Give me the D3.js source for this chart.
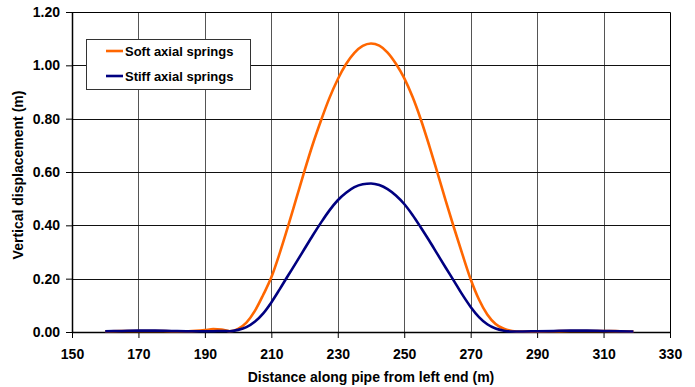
<!DOCTYPE html>
<html>
<head>
<meta charset="utf-8">
<script src="https://cdn.jsdelivr.net/npm/d3@7"></script>
<style>
  html, body { margin: 0; padding: 0; background: #fff; }
  svg { display: block; }
  text { font-family: Arial, "Liberation Sans", sans-serif; font-weight: bold; fill: #000; }
</style>
</head>
<body>
<svg id="chart" width="695" height="387"></svg>
<script>
// Distance along the pipe (m)
const distance = [160, 165, 170, 175, 180, 185, 190, 192.5, 195, 197.5,
  200, 202.5, 205, 207.5, 210, 212.5, 215, 217.5, 220, 222.5, 225, 227.5,
  230, 232.5, 235, 237.5, 240, 242.5, 245, 247.5, 250, 252.5, 255, 257.5,
  260, 262.5, 265, 267.5, 270, 272.5, 275, 277.5, 280, 282.5,
  285, 290, 295, 300, 305, 310, 315, 319];

// Vertical displacement (m), soft axial springs
const softSprings = [0.003, 0.004, 0.004, 0.004, 0.003, 0.003, 0.007, 0.011, 0.009, 0.003,
  0.012, 0.035, 0.078, 0.138, 0.205, 0.295, 0.395, 0.500, 0.605, 0.705, 0.795, 0.878,
  0.948, 1.005, 1.047, 1.073, 1.082, 1.074, 1.048, 1.006, 0.952, 0.882, 0.797, 0.700,
  0.597, 0.492, 0.390, 0.292, 0.198, 0.122, 0.066, 0.030, 0.012, 0.004,
  0.002, 0.002, 0.003, 0.004, 0.004, 0.004, 0.003, 0.002];

// Vertical displacement (m), stiff axial springs
const stiffSprings = [0.003, 0.004, 0.005, 0.005, 0.004, 0.003, 0.003, 0.003, 0.004, 0.003,
  0.008, 0.018, 0.038, 0.069, 0.111, 0.160, 0.211, 0.261, 0.312, 0.363, 0.411, 0.456,
  0.494, 0.522, 0.543, 0.554, 0.557, 0.551, 0.536, 0.512, 0.480, 0.439, 0.392, 0.343,
  0.292, 0.241, 0.191, 0.140, 0.094, 0.056, 0.029, 0.013, 0.005, 0.002,
  0.002, 0.003, 0.004, 0.005, 0.005, 0.004, 0.003, 0.002];

const xTicks = [150, 170, 190, 210, 230, 250, 270, 290, 310, 330];
const yTicks = [0, 0.2, 0.4, 0.6, 0.8, 1.0, 1.2];

const seriesNames = ["Soft axial springs", "Stiff axial springs"];
const seriesColors = ["#FF6600", "#000080"];

const svg = d3.select("#chart");
const plotLeft = 72, plotRight = 670, plotTop = 12, plotBottom = 332;

const x = d3.scaleLinear().domain([150, 330]).range([plotLeft, plotRight]);
const y = d3.scaleLinear().domain([0, 1.2]).range([plotBottom, plotTop]);

// Gridlines
svg.append("g").selectAll("line")
  .data(xTicks.slice(1, -1)).join("line")
  .attr("x1", d => Math.round(x(d)) + 0.5).attr("x2", d => Math.round(x(d)) + 0.5)
  .attr("y1", plotTop).attr("y2", plotBottom)
  .attr("stroke", "#555").attr("stroke-width", 1);

svg.append("g").selectAll("line")
  .data(yTicks.slice(1, -1)).join("line")
  .attr("x1", plotLeft).attr("x2", plotRight)
  .attr("y1", d => Math.round(y(d)) + 0.5).attr("y2", d => Math.round(y(d)) + 0.5)
  .attr("stroke", "#111").attr("stroke-width", 1);

// Plot frame (top and right)
svg.append("path")
  .attr("d", `M${plotLeft},${plotTop + 0.5}H${plotRight + 0.5}V${plotBottom}`)
  .attr("fill", "none").attr("stroke", "#000").attr("stroke-width", 1);

// Axes
const xAxis = svg.append("g")
  .attr("transform", `translate(0,${plotBottom})`)
  .call(d3.axisBottom(x).tickValues(xTicks).tickFormat(d3.format("d")).tickSize(6).tickSizeOuter(0));
const yAxis = svg.append("g")
  .attr("transform", `translate(${plotLeft},0)`)
  .call(d3.axisLeft(y).tickValues(yTicks).tickFormat(d3.format(".2f")).tickSize(6).tickSizeOuter(0));

[xAxis, yAxis].forEach(g => {
  g.select(".domain").attr("stroke", "#000").attr("stroke-width", 1.5);
  g.selectAll(".tick line").attr("stroke", "#000");
  g.selectAll(".tick text")
    .attr("font-family", "Arial, 'Liberation Sans', sans-serif")
    .attr("font-weight", "bold").attr("font-size", 14).attr("fill", "#000");
});
xAxis.selectAll(".tick text").attr("dy", "1.3em");
yAxis.selectAll(".tick text").attr("x", -12);

// Axis titles
svg.append("text")
  .attr("x", (plotLeft + plotRight) / 2).attr("y", 382)
  .attr("text-anchor", "middle").attr("font-size", 14)
  .text("Distance along pipe from left end (m)");

svg.append("text")
  .attr("transform", `translate(23,${(plotTop + plotBottom) / 2 + 3}) rotate(-90)`)
  .attr("text-anchor", "middle").attr("font-size", 14)
  .text("Vertical displacement (m)");

// Series lines
const line = (vals) => d3.line()
  .x((d, i) => x(distance[i]))
  .y(d => y(d))
  .curve(d3.curveMonotoneX)(vals);

[softSprings, stiffSprings].forEach((vals, i) => {
  svg.append("path")
    .attr("d", line(vals))
    .attr("fill", "none")
    .attr("stroke", seriesColors[i])
    .attr("stroke-width", 2.6)
    .attr("stroke-linejoin", "round");
});

// Legend
const legend = svg.append("g");
legend.append("rect")
  .attr("x", 86.5).attr("y", 39.5).attr("width", 164).attr("height", 50)
  .attr("fill", "#fff").attr("stroke", "#333").attr("stroke-width", 1);
seriesNames.forEach((name, i) => {
  const ly = 51 + i * 25;
  legend.append("line")
    .attr("x1", 106).attr("x2", 123).attr("y1", ly).attr("y2", ly)
    .attr("stroke", seriesColors[i]).attr("stroke-width", 2.6);
  legend.append("text")
    .attr("x", 125).attr("y", ly + 5)
    .attr("font-size", 13)
    .text(name);
});
</script>
</body>
</html>
